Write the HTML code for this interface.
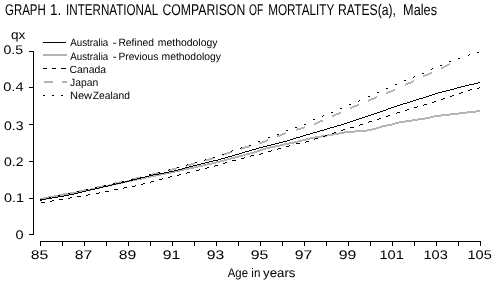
<!DOCTYPE html>
<html><head><meta charset="utf-8"><style>
html,body{margin:0;padding:0;background:#fff;width:496px;height:284px;overflow:hidden}
svg{display:block;will-change:transform}
text{font-family:"Liberation Sans",sans-serif;fill:#000;text-rendering:geometricPrecision}
</style></head><body>
<svg width="496" height="284" viewBox="0 0 496 284">
<text x="5" y="15" font-size="15.5" text-anchor="start" textLength="40.82" lengthAdjust="spacingAndGlyphs">GRAPH</text><text x="50.0" y="15" font-size="15.5" text-anchor="start" textLength="11.21" lengthAdjust="spacingAndGlyphs">1.</text><text x="66.1" y="15" font-size="15.5" text-anchor="start" textLength="92.15" lengthAdjust="spacingAndGlyphs">INTERNATIONAL</text><text x="162.5" y="15" font-size="15.5" text-anchor="start" textLength="82.73" lengthAdjust="spacingAndGlyphs">COMPARISON</text><text x="249.0" y="15" font-size="15.5" text-anchor="start" textLength="14.21" lengthAdjust="spacingAndGlyphs">OF</text><text x="268.2" y="15" font-size="15.5" text-anchor="start" textLength="66.12" lengthAdjust="spacingAndGlyphs">MORTALITY</text><text x="338.0" y="15" font-size="15.5" text-anchor="start" textLength="57.94" lengthAdjust="spacingAndGlyphs">RATES(a),</text><text x="403.1" y="15" font-size="15.5" text-anchor="start" textLength="33.94" lengthAdjust="spacingAndGlyphs">Males</text>
<text x="11.0" y="38.7" font-size="12.5" text-anchor="start" textLength="14.36" lengthAdjust="spacingAndGlyphs">qx</text>
<text x="15.5" y="238.9" font-size="12.5" text-anchor="start" textLength="8.08" lengthAdjust="spacingAndGlyphs">0</text><text x="4.0" y="201.8" font-size="12.5" text-anchor="start" textLength="20.04" lengthAdjust="spacingAndGlyphs">0.1</text><text x="4.0" y="166.3" font-size="12.5" text-anchor="start" textLength="19.52" lengthAdjust="spacingAndGlyphs">0.2</text><text x="4.0" y="129.5" font-size="12.5" text-anchor="start" textLength="19.52" lengthAdjust="spacingAndGlyphs">0.3</text><text x="3.25" y="91.0" font-size="12.5" text-anchor="start" textLength="20.3" lengthAdjust="spacingAndGlyphs">0.4</text><text x="3.5" y="54.3" font-size="12.5" text-anchor="start" textLength="19.64" lengthAdjust="spacingAndGlyphs">0.5</text>
<text x="30.75" y="258.9" font-size="12.5" text-anchor="start" textLength="17.54" lengthAdjust="spacingAndGlyphs">85</text><text x="74.75" y="258.9" font-size="12.5" text-anchor="start" textLength="17.51" lengthAdjust="spacingAndGlyphs">87</text><text x="118.75" y="258.9" font-size="12.5" text-anchor="start" textLength="17.54" lengthAdjust="spacingAndGlyphs">89</text><text x="162.75" y="258.9" font-size="12.5" text-anchor="start" textLength="17.51" lengthAdjust="spacingAndGlyphs">91</text><text x="206.75" y="258.9" font-size="12.5" text-anchor="start" textLength="17.51" lengthAdjust="spacingAndGlyphs">93</text><text x="250.75" y="258.9" font-size="12.5" text-anchor="start" textLength="17.54" lengthAdjust="spacingAndGlyphs">95</text><text x="294.75" y="258.9" font-size="12.5" text-anchor="start" textLength="17.54" lengthAdjust="spacingAndGlyphs">97</text><text x="338.75" y="258.9" font-size="12.5" text-anchor="start" textLength="17.54" lengthAdjust="spacingAndGlyphs">99</text><text x="379.5" y="258.9" font-size="12.5" text-anchor="start" textLength="24.3" lengthAdjust="spacingAndGlyphs">101</text><text x="423.5" y="258.9" font-size="12.5" text-anchor="start" textLength="24.3" lengthAdjust="spacingAndGlyphs">103</text><text x="467.5" y="258.9" font-size="12.5" text-anchor="start" textLength="24.3" lengthAdjust="spacingAndGlyphs">105</text>
<text x="227.8" y="277" font-size="12.5" text-anchor="start" textLength="20.14" lengthAdjust="spacingAndGlyphs">Age</text><text x="251.3" y="277" font-size="12.5" text-anchor="start" textLength="9.05" lengthAdjust="spacingAndGlyphs">in</text><text x="263" y="277" font-size="12.5" text-anchor="start" textLength="32.46" lengthAdjust="spacingAndGlyphs">years</text>
<g stroke="#000" stroke-width="1" fill="none" shape-rendering="crispEdges">
<line x1="33.5" y1="51" x2="33.5" y2="235"/>
<line x1="40" y1="241.5" x2="481" y2="241.5"/>
<line x1="29" y1="234.5" x2="34" y2="234.5"/><line x1="29" y1="198.5" x2="34" y2="198.5"/><line x1="29" y1="161.5" x2="34" y2="161.5"/><line x1="29" y1="124.5" x2="34" y2="124.5"/><line x1="29" y1="87.5" x2="34" y2="87.5"/><line x1="29" y1="51.5" x2="34" y2="51.5"/>
<line x1="40.5" y1="241" x2="40.5" y2="246"/><line x1="62.5" y1="241" x2="62.5" y2="246"/><line x1="84.5" y1="241" x2="84.5" y2="246"/><line x1="106.5" y1="241" x2="106.5" y2="246"/><line x1="128.5" y1="241" x2="128.5" y2="246"/><line x1="150.5" y1="241" x2="150.5" y2="246"/><line x1="172.5" y1="241" x2="172.5" y2="246"/><line x1="194.5" y1="241" x2="194.5" y2="246"/><line x1="216.5" y1="241" x2="216.5" y2="246"/><line x1="238.5" y1="241" x2="238.5" y2="246"/><line x1="260.5" y1="241" x2="260.5" y2="246"/><line x1="282.5" y1="241" x2="282.5" y2="246"/><line x1="304.5" y1="241" x2="304.5" y2="246"/><line x1="326.5" y1="241" x2="326.5" y2="246"/><line x1="348.5" y1="241" x2="348.5" y2="246"/><line x1="370.5" y1="241" x2="370.5" y2="246"/><line x1="392.5" y1="241" x2="392.5" y2="246"/><line x1="414.5" y1="241" x2="414.5" y2="246"/><line x1="436.5" y1="241" x2="436.5" y2="246"/><line x1="458.5" y1="241" x2="458.5" y2="246"/><line x1="480.5" y1="241" x2="480.5" y2="246"/>
</g>
<g shape-rendering="crispEdges">
<path d="M40 198h3v2h-3zM43 197h5v2h-5zM48 196h6v2h-6zM54 195h5v2h-5zM59 194h6v2h-6zM65 193h5v2h-5zM70 192h6v2h-6zM76 191h5v2h-5zM81 190h5v2h-5zM86 189h5v2h-5zM91 188h4v2h-4zM95 187h5v2h-5zM100 186h4v2h-4zM104 185h5v2h-5zM109 184h4v2h-4zM113 183h5v2h-5zM118 182h5v2h-5zM123 181h4v2h-4zM127 180h5v2h-5zM132 179h5v2h-5zM137 178h5v2h-5zM142 177h4v2h-4zM146 176h5v2h-5zM151 175h5v2h-5zM156 174h5v2h-5zM161 173h5v2h-5zM166 172h5v2h-5zM171 171h4v2h-4zM175 170h5v2h-5zM180 169h4v2h-4zM184 168h5v2h-5zM189 167h5v2h-5zM194 166h4v2h-4zM198 165h5v2h-5zM203 164h4v2h-4zM207 163h5v2h-5zM212 162h4v2h-4zM216 161h4v2h-4zM220 160h4v2h-4zM224 159h3v2h-3zM227 158h4v2h-4zM231 157h4v2h-4zM235 156h4v2h-4zM239 155h4v2h-4zM243 154h3v2h-3zM246 153h4v2h-4zM250 152h4v2h-4zM254 151h3v2h-3zM257 150h3v2h-3zM260 149h3v2h-3zM263 148h3v2h-3zM266 147h4v2h-4zM270 146h5v2h-5zM275 145h5v2h-5zM280 144h4v2h-4zM284 143h5v2h-5zM289 142h5v2h-5zM294 141h4v2h-4zM298 140h4v2h-4zM302 139h4v2h-4zM306 138h4v2h-4zM310 137h5v2h-5zM315 136h6v2h-6zM321 135h6v2h-6zM327 134h6v2h-6zM333 133h6v2h-6zM339 132h5v2h-5zM344 131h11v2h-11zM355 130h12v2h-12zM367 129h5v2h-5zM372 128h4v2h-4zM376 127h3v2h-3zM379 126h3v2h-3zM382 125h5v2h-5zM387 124h5v2h-5zM392 123h3v2h-3zM395 122h4v2h-4zM399 121h6v2h-6zM405 120h7v2h-7zM412 119h6v2h-6zM418 118h7v2h-7zM425 117h5v2h-5zM430 116h4v2h-4zM434 115h7v2h-7zM441 114h9v2h-9zM450 113h9v2h-9zM459 112h8v2h-8zM467 111h9v2h-9zM476 110h4v2h-4z" fill="#b4b4b4"/>
<path d="M41 198h2v2h-2zM43 197h5v2h-5zM48 196h2v2h-2zM59 194h4v2h-4zM63 193h5v2h-5zM77 191h2v2h-2zM79 190h5v2h-5zM84 189h2v2h-2zM96 187h1v2h-1zM97 186h5v2h-5zM102 185h3v2h-3zM114 183h1v2h-1zM115 182h4v2h-4zM119 181h4v2h-4zM132 178h4v2h-4zM136 177h4v2h-4zM140 176h1v2h-1zM150 174h2v2h-2zM152 173h4v2h-4zM156 172h3v2h-3zM168 169h4v2h-4zM172 168h4v2h-4zM176 167h1v2h-1zM186 165h1v2h-1zM187 164h4v2h-4zM191 163h3v2h-3zM194 162h1v2h-1zM205 159h4v2h-4zM209 158h3v2h-3zM212 157h2v2h-2zM223 154h1v2h-1zM224 153h3v2h-3zM227 152h3v2h-3zM230 151h2v2h-2zM241 148h1v2h-1zM242 147h3v2h-3zM245 146h4v2h-4zM249 145h1v2h-1zM259 142h3v2h-3zM262 141h3v2h-3zM265 140h2v2h-2zM267 139h1v2h-1zM277 135h3v2h-3zM280 134h2v2h-2zM282 133h3v2h-3zM285 132h1v2h-1zM296 129h1v2h-1zM297 128h4v2h-4zM301 127h3v2h-3zM304 126h1v2h-1zM314 123h2v2h-2zM316 122h2v2h-2zM318 121h2v2h-2zM320 120h3v2h-3zM332 115h2v2h-2zM334 114h2v2h-2zM336 113h3v2h-3zM339 112h2v2h-2zM350 107h2v2h-2zM352 106h2v2h-2zM354 105h3v2h-3zM357 104h2v2h-2zM368 100h1v2h-1zM369 99h2v2h-2zM371 98h3v2h-3zM374 97h2v2h-2zM376 96h1v2h-1zM386 92h2v2h-2zM388 91h3v2h-3zM391 90h2v2h-2zM393 89h2v2h-2zM405 84h1v2h-1zM406 83h2v2h-2zM408 82h3v2h-3zM411 81h2v2h-2zM413 80h1v2h-1zM423 75h2v2h-2zM425 74h3v2h-3zM428 73h2v2h-2zM430 72h2v2h-2zM441 67h2v2h-2zM443 66h2v2h-2zM445 65h2v2h-2zM447 64h2v2h-2zM449 63h1v2h-1z" fill="#b4b4b4"/>
<path d="M40 199h2v1h-2zM49 197h2v1h-2zM58 195h2v1h-2zM68 193h2v1h-2zM77 191h2v1h-2zM86 189h2v1h-2zM95 187h2v1h-2zM104 185h2v1h-2zM113 183h2v1h-2zM122 181h2v1h-2zM131 179h2v1h-2zM140 177h2v1h-2zM149 174h2v1h-2zM158 172h2v1h-2zM168 170h1v1h-1zM169 169h1v1h-1zM177 167h2v1h-2zM186 165h1v1h-1zM187 164h1v1h-1zM195 162h2v1h-2zM204 160h1v1h-1zM205 159h1v1h-1zM213 157h2v1h-2zM222 154h2v1h-2zM231 151h1v1h-1zM232 150h1v1h-1zM240 148h1v1h-1zM241 147h1v1h-1zM249 145h2v1h-2zM258 141h2v1h-2zM268 137h2v1h-2zM277 134h2v1h-2zM286 130h2v1h-2zM295 127h2v1h-2zM304 124h2v1h-2zM313 119h2v1h-2zM322 116h1v1h-1zM323 115h1v1h-1zM331 112h2v1h-2zM340 108h2v1h-2zM349 104h2v1h-2zM358 101h1v1h-1zM359 100h1v1h-1zM368 96h2v1h-2zM377 92h2v1h-2zM386 88h2v1h-2zM395 84h2v1h-2zM404 80h2v1h-2zM413 77h1v1h-1zM414 76h1v1h-1zM422 73h2v1h-2zM431 69h1v1h-1zM432 68h1v1h-1zM440 65h2v1h-2zM449 61h2v1h-2zM458 58h2v1h-2zM468 55h1v1h-1zM469 54h1v1h-1zM477 52h2v1h-2z" fill="#000"/>
<path d="M41 202h4v1h-4zM50 201h2v1h-2zM52 200h2v1h-2zM59 199h4v1h-4zM68 198h2v1h-2zM70 197h2v1h-2zM77 196h4v1h-4zM86 195h2v1h-2zM88 194h2v1h-2zM96 193h3v1h-3zM99 192h1v1h-1zM105 191h4v1h-4zM114 189h4v1h-4zM123 188h1v1h-1zM124 187h3v1h-3zM132 186h3v1h-3zM135 185h1v1h-1zM141 184h2v1h-2zM143 183h2v1h-2zM150 182h1v1h-1zM151 181h3v1h-3zM159 179h3v1h-3zM162 178h1v1h-1zM168 177h2v1h-2zM170 176h2v1h-2zM177 175h2v1h-2zM179 174h2v1h-2zM186 173h1v1h-1zM187 172h3v1h-3zM196 170h3v1h-3zM199 169h1v1h-1zM205 168h2v1h-2zM207 167h2v1h-2zM214 166h1v1h-1zM215 165h3v1h-3zM223 163h2v1h-2zM225 162h2v1h-2zM232 160h4v1h-4zM241 158h3v1h-3zM244 157h1v1h-1zM250 156h1v1h-1zM251 155h3v1h-3zM259 154h2v1h-2zM261 153h2v1h-2zM268 151h3v1h-3zM271 150h1v1h-1zM277 149h1v1h-1zM278 148h3v1h-3zM286 146h3v1h-3zM289 145h1v1h-1zM296 143h4v1h-4zM305 142h1v1h-1zM306 141h3v1h-3zM314 139h1v1h-1zM315 138h3v1h-3zM323 136h2v1h-2zM325 135h2v1h-2zM332 133h2v1h-2zM334 132h2v1h-2zM341 130h2v1h-2zM343 129h2v1h-2zM350 127h4v1h-4zM359 125h1v1h-1zM360 124h3v1h-3zM368 122h1v1h-1zM369 121h3v1h-3zM377 119h2v1h-2zM379 118h2v1h-2zM386 116h2v1h-2zM388 115h2v1h-2zM396 113h1v1h-1zM397 112h3v1h-3zM405 110h2v1h-2zM407 109h2v1h-2zM414 107h3v1h-3zM417 106h1v1h-1zM423 105h1v1h-1zM424 104h3v1h-3zM432 102h2v1h-2zM434 101h2v1h-2zM441 99h2v1h-2zM443 98h2v1h-2zM450 96h2v1h-2zM452 95h2v1h-2zM459 93h2v1h-2zM461 92h2v1h-2zM468 90h2v1h-2zM470 89h2v1h-2zM477 88h2v1h-2zM479 87h1v1h-1z" fill="#000"/>
<path d="M40 200h2v1h-2zM42 199h4v1h-4zM46 198h6v1h-6zM52 197h6v1h-6zM58 196h6v1h-6zM64 195h5v1h-5zM69 194h5v1h-5zM74 193h4v1h-4zM78 192h4v1h-4zM82 191h4v1h-4zM86 190h4v1h-4zM90 189h5v1h-5zM95 188h4v1h-4zM99 187h4v1h-4zM103 186h5v1h-5zM108 185h4v1h-4zM112 184h4v1h-4zM116 183h5v1h-5zM121 182h4v1h-4zM125 181h4v1h-4zM129 180h4v1h-4zM133 179h4v1h-4zM137 178h4v1h-4zM141 177h4v1h-4zM145 176h4v1h-4zM149 175h4v1h-4zM153 174h6v1h-6zM159 173h5v1h-5zM164 172h5v1h-5zM169 171h5v1h-5zM174 170h4v1h-4zM178 169h4v1h-4zM182 168h3v1h-3zM185 167h4v1h-4zM189 166h4v1h-4zM193 165h4v1h-4zM197 164h4v1h-4zM201 163h4v1h-4zM205 162h4v1h-4zM209 161h4v1h-4zM213 160h5v1h-5zM218 159h3v1h-3zM221 158h4v1h-4zM225 157h3v1h-3zM228 156h4v1h-4zM232 155h3v1h-3zM235 154h4v1h-4zM239 153h3v1h-3zM242 152h3v1h-3zM245 151h4v1h-4zM249 150h3v1h-3zM252 149h4v1h-4zM256 148h3v1h-3zM259 147h4v1h-4zM263 146h4v1h-4zM267 145h4v1h-4zM271 144h4v1h-4zM275 143h4v1h-4zM279 142h4v1h-4zM283 141h4v1h-4zM287 140h3v1h-3zM290 139h3v1h-3zM293 138h3v1h-3zM296 137h4v1h-4zM300 136h3v1h-3zM303 135h3v1h-3zM306 134h4v1h-4zM310 133h3v1h-3zM313 132h4v1h-4zM317 131h3v1h-3zM320 130h4v1h-4zM324 129h3v1h-3zM327 128h3v1h-3zM330 127h4v1h-4zM334 126h3v1h-3zM337 125h4v1h-4zM341 124h3v1h-3zM344 123h3v1h-3zM347 122h3v1h-3zM350 121h3v1h-3zM353 120h3v1h-3zM356 119h3v1h-3zM359 118h3v1h-3zM362 117h3v1h-3zM365 116h3v1h-3zM368 115h3v1h-3zM371 114h3v1h-3zM374 113h3v1h-3zM377 112h3v1h-3zM380 111h3v1h-3zM383 110h3v1h-3zM386 109h2v1h-2zM388 108h3v1h-3zM391 107h3v1h-3zM394 106h3v1h-3zM397 105h3v1h-3zM400 104h3v1h-3zM403 103h4v1h-4zM407 102h3v1h-3zM410 101h3v1h-3zM413 100h3v1h-3zM416 99h3v1h-3zM419 98h4v1h-4zM423 97h3v1h-3zM426 96h3v1h-3zM429 95h3v1h-3zM432 94h3v1h-3zM435 93h3v1h-3zM438 92h4v1h-4zM442 91h4v1h-4zM446 90h4v1h-4zM450 89h4v1h-4zM454 88h3v1h-3zM457 87h4v1h-4zM461 86h4v1h-4zM465 85h4v1h-4zM469 84h5v1h-5zM474 83h4v1h-4zM478 82h2v1h-2z" fill="#000"/>
</g>
<g shape-rendering="crispEdges">
<line x1="43" y1="42.5" x2="66" y2="42.5" stroke="#000"/>
<line x1="43" y1="55" x2="67" y2="55" stroke="#b4b4b4" stroke-width="2"/>
<path d="M43 68h4v1h-4zM52 68h4v1h-4zM61 68h5v1h-5z" fill="#000"/>
<line x1="44" y1="82" x2="67" y2="82" stroke="#b4b4b4" stroke-width="2" stroke-dasharray="9,9"/>
<path d="M43 95h2v1h-2zM52 95h2v1h-2zM61 95h2v1h-2z" fill="#000"/>
</g>
<text x="70.2" y="46.4" font-size="10.5" text-anchor="start" textLength="38.06" lengthAdjust="spacingAndGlyphs">Australia</text><text x="112.4" y="46.4" font-size="10.5" text-anchor="start" textLength="4.32" lengthAdjust="spacingAndGlyphs">-</text><text x="118.4" y="46.4" font-size="10.5" text-anchor="start" textLength="35.58" lengthAdjust="spacingAndGlyphs">Refined</text><text x="157.8" y="46.4" font-size="10.5" text-anchor="start" textLength="59.7" lengthAdjust="spacingAndGlyphs">methodology</text>
<text x="70.2" y="59.6" font-size="10.5" text-anchor="start" textLength="38.06" lengthAdjust="spacingAndGlyphs">Australia</text><text x="112.4" y="59.6" font-size="10.5" text-anchor="start" textLength="4.32" lengthAdjust="spacingAndGlyphs">-</text><text x="118.4" y="59.6" font-size="10.5" text-anchor="start" textLength="39.87" lengthAdjust="spacingAndGlyphs">Previous</text><text x="161.5" y="59.6" font-size="10.5" text-anchor="start" textLength="59.45" lengthAdjust="spacingAndGlyphs">methodology</text>
<text x="69.5" y="73.2" font-size="10.5" text-anchor="start" textLength="36.54" lengthAdjust="spacingAndGlyphs">Canada</text>
<text x="70.0" y="86.3" font-size="10.5" text-anchor="start" textLength="28.18" lengthAdjust="spacingAndGlyphs">Japan</text>
<text x="69.9" y="98.6" font-size="10.5" text-anchor="start" textLength="22.18" lengthAdjust="spacingAndGlyphs">New</text><text x="92.8" y="98.6" font-size="10.5" text-anchor="start" textLength="37.1" lengthAdjust="spacingAndGlyphs">Zealand</text>
</svg>
</body></html>
